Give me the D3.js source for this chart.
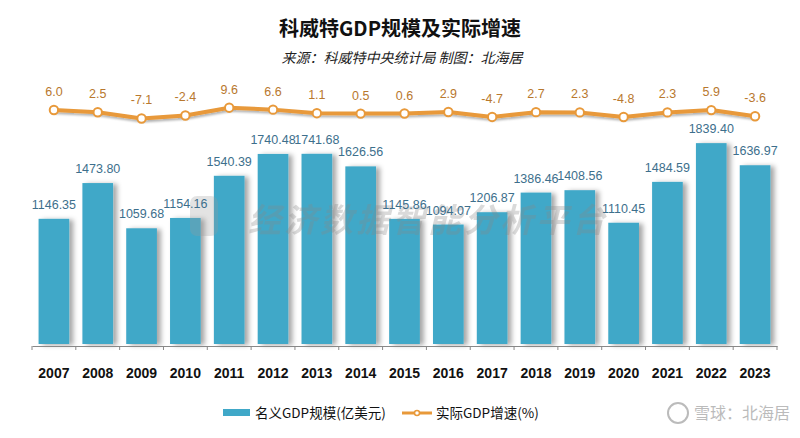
<!DOCTYPE html>
<html><head><meta charset="utf-8">
<script src="https://cdn.jsdelivr.net/npm/d3@7"></script>
<style>body{margin:0;background:#fff}svg{display:block}</style>
</head><body>
<svg id="c" width="800" height="438"></svg>
<script>
const years = ["2007","2008","2009","2010","2011","2012","2013","2014","2015","2016","2017","2018","2019","2020","2021","2022","2023"];
const gdp = [1146.35,1473.80,1059.68,1154.16,1540.39,1740.48,1741.68,1626.56,1145.86,1094.07,1206.87,1386.46,1408.56,1110.45,1484.59,1839.40,1636.97];
const growth = [6.0,2.5,-7.1,-2.4,9.6,6.6,1.1,0.5,0.6,2.9,-4.7,2.7,2.3,-4.8,2.3,5.9,-3.6];
const titleText = "科威特GDP规模及实际增速";
const subText = "来源：科威特中央统计局 制图：北海居";
const legendBar = "名义GDP规模(亿美元)";
const legendLine = "实际GDP增速(%)";

const svg = d3.select("#c");
const defs = svg.append("defs");
const f = defs.append("filter").attr("id","sh").attr("x","-20%").attr("y","-20%").attr("width","160%").attr("height","140%");
f.append("feDropShadow").attr("dx",4).attr("dy",1).attr("stdDeviation",2.5).attr("flood-color","#000").attr("flood-opacity",0.35);
const f2 = defs.append("filter").attr("id","sh2").attr("x","-20%").attr("y","-50%").attr("width","140%").attr("height","200%");
f2.append("feDropShadow").attr("dx",1).attr("dy",2).attr("stdDeviation",1.2).attr("flood-color","#000").attr("flood-opacity",0.3);

const x = d3.scaleBand().domain(years).range([32,777]).paddingInner(0.3).paddingOuter(0.15);
const y = d3.scaleLinear().domain([0,2000]).range([344,344-2000*0.1092]);
const yl = d3.scaleLinear().domain([-10,10]).range([113.9+10*0.647,113.9-10*0.647]);

// title
svg.append("text").attr("x",400).attr("y",36).attr("text-anchor","middle")
  .attr("font-family","'Noto Sans CJK SC'").attr("font-weight","bold").attr("font-size",20).attr("fill","#111").text(titleText);
svg.append("text").attr("x",402).attr("y",63).attr("text-anchor","middle")
  .attr("font-family","'Noto Sans CJK SC'").attr("font-style","italic").attr("font-size",14).attr("fill","#222")
  .text(subText);

// bars
svg.append("g").selectAll("rect").data(years).join("rect")
  .attr("x",d=>x(d)).attr("width",x.bandwidth())
  .attr("y",(d,i)=>y(gdp[i])).attr("height",(d,i)=>y(0)-y(gdp[i]))
  .attr("fill","#40a8c8").attr("filter","url(#sh)");

// watermark
svg.append("text").attr("x",248).attr("y",232).attr("font-family","'Noto Sans CJK SC'").attr("font-weight","bold")
  .attr("font-style","italic").attr("font-size",33).attr("fill","#888").attr("opacity",0.3).attr("letter-spacing",3)
  .text("经济数据智能分析平台");
svg.append("rect").attr("x",190).attr("y",196).attr("width",28).attr("height",40).attr("rx",7).attr("fill","#999").attr("opacity",0.28);

// bar labels
svg.append("g").selectAll("text").data(years).join("text")
  .attr("x",d=>x(d)+x.bandwidth()/2).attr("y",(d,i)=>y(gdp[i])-10)
  .attr("text-anchor","middle").attr("font-family","'Liberation Sans',Arial").attr("font-size",12.5)
  .attr("fill","#3d6f8c").text((d,i)=>gdp[i].toFixed(2));

// axis
const ax = svg.append("g").attr("transform","translate(0,346)")
  .call(d3.axisBottom(x).tickSize(0).tickFormat(""));
ax.select(".domain").attr("stroke","#888");
svg.append("g").selectAll("line").data(d3.range(years.length+1)).join("line")
  .attr("x1",i=>32+i*x.step()).attr("x2",i=>32+i*x.step())
  .attr("y1",346).attr("y2",350).attr("stroke","#888");
svg.append("g").selectAll("text").data(years).join("text")
  .attr("x",d=>x(d)+x.bandwidth()/2).attr("y",378).attr("text-anchor","middle")
  .attr("font-family","'Liberation Sans Narrow','Liberation Sans',Arial").attr("font-weight","bold").attr("font-size",14)
  .attr("fill","#111").text(d=>d);

// line
const line = d3.line().x((d,i)=>x(years[i])+x.bandwidth()/2).y(d=>yl(d));
svg.append("path").datum(growth).attr("d",line).attr("fill","none").attr("stroke","#e8993a").attr("stroke-width",4)
  .attr("stroke-linejoin","round").attr("filter","url(#sh2)");
svg.append("g").selectAll("circle").data(growth).join("circle")
  .attr("cx",(d,i)=>x(years[i])+x.bandwidth()/2).attr("cy",d=>yl(d)).attr("r",4.2)
  .attr("fill","#fff").attr("stroke","#e8993a").attr("stroke-width",2);
svg.append("g").selectAll("text").data(growth).join("text")
  .attr("x",(d,i)=>x(years[i])+x.bandwidth()/2).attr("y",d=>yl(d)-14)
  .attr("text-anchor","middle").attr("font-family","'Liberation Sans',Arial").attr("font-size",12.5)
  .attr("fill","#b8782e").text(d=>d.toFixed(1));

// legend
svg.append("rect").attr("x",223).attr("y",409).attr("width",27).attr("height",7).attr("fill","#40a8c8");
svg.append("text").attr("x",255).attr("y",418).attr("font-family","'Noto Sans CJK SC'").attr("font-size",13.5).attr("fill","#111").text(legendBar);
svg.append("line").attr("x1",402).attr("x2",432).attr("y1",413).attr("y2",413).attr("stroke","#e8993a").attr("stroke-width",3);
svg.append("circle").attr("cx",417).attr("cy",413).attr("r",2.5).attr("fill","#fff").attr("stroke","#e8993a").attr("stroke-width",1.5);
svg.append("text").attr("x",436).attr("y",418).attr("font-family","'Noto Sans CJK SC'").attr("font-size",13.5).attr("fill","#111").text(legendLine);
svg.append("circle").attr("cx",678).attr("cy",413).attr("r",10).attr("fill","none").attr("stroke","#bbb").attr("stroke-width",2);
svg.append("text").attr("x",694).attr("y",419).attr("font-family","'Noto Sans CJK SC'").attr("font-size",16).attr("fill","#bbb").text("雪球：北海居");
</script>
</body></html>
